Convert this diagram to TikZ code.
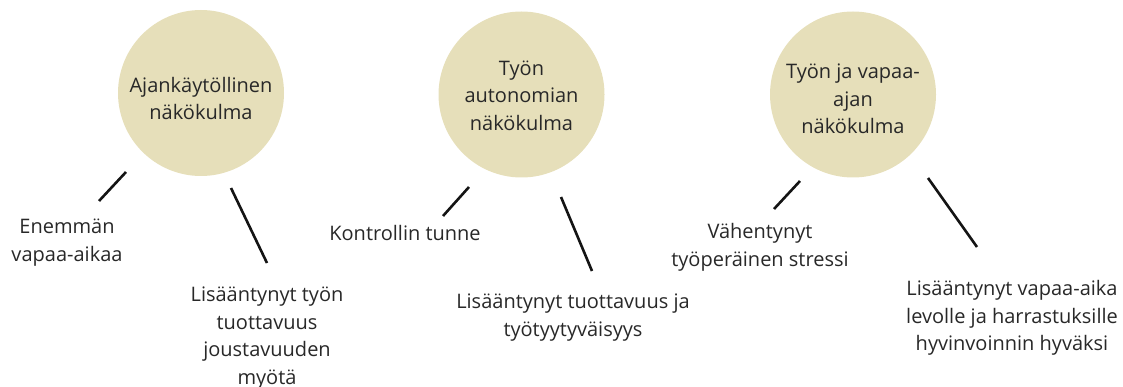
\documentclass[tikz,border=0pt]{standalone}
\usepackage{fontspec}
\setmainfont{Open Sans}
\usetikzlibrary{calc}
\definecolor{beige}{RGB}{230,223,186}
\definecolor{txt}{RGB}{40,40,40}
\definecolor{ink}{RGB}{20,20,20}
\tikzset{
  bubble/.style={circle, fill=beige, minimum size=166pt, inner sep=0pt, align=center, text=txt,
    font=\fontsize{20pt}{27pt}\selectfont},
  label/.style={align=center, text=txt, inner sep=0pt, font=\fontsize{20pt}{27.5pt}\selectfont},
  link/.style={draw=ink, line width=2.6pt}
}
\begin{document}
\begin{tikzpicture}[x=1pt,y=-1pt]
\useasboundingbox (0,0) rectangle (1123,387);
\node[bubble] (c1) at (201,93) {};
\node[bubble] (c2) at (521.5,94.5) {};
\node[bubble] (c3) at (853,94.5) {};
\node[label] (h1) at (201,98.5) {Ajankäytöllinen\\näkökulma};
\node[label] (h2) at (521.5,95.5) {Työn\\autonomian\\näkökulma};
\node[label] (h3) at (853,99) {Työn ja vapaa-\\ajan\\näkökulma};
\node[label] (t1) at (67,242.5) {Enemmän\\vapaa-aikaa};
\node[label] (t2) at (267,338) {Lisääntynyt työn\\tuottavuus\\joustavuuden\\myötä};
\node[label] (t3) at (405,233) {Kontrollin tunne};
\node[label] (t4) at (573,317.5) {Lisääntynyt tuottavuus ja\\työtyytyväisyys};
\node[label] (t5) at (760,247.5) {Vähentynyt\\työperäinen stressi};
\node[label] (t6) at (1012,318) {Lisääntynyt vapaa-aika\\levolle ja harrastuksille\\hyvinvoinnin hyväksi};
\draw[link] ($(c1)+(-75,79)$) -- ($(t1)+(32,-41.5)$);
\draw[link] ($(c1)+(30,95)$) -- ($(t2)+(0,-75)$);
\draw[link] ($(c2)+(-52.5,92.5)$) -- ($(t3)+(38,-17)$);
\draw[link] ($(c2)+(39.5,102.5)$) -- ($(t4)+(19,-46.5)$);
\draw[link] ($(c3)+(-53,86.5)$) -- ($(t5)+(14,-38.5)$);
\draw[link] ($(c3)+(75,83.5)$) -- ($(t6)+(-35,-71)$);
\end{tikzpicture}
\end{document}
